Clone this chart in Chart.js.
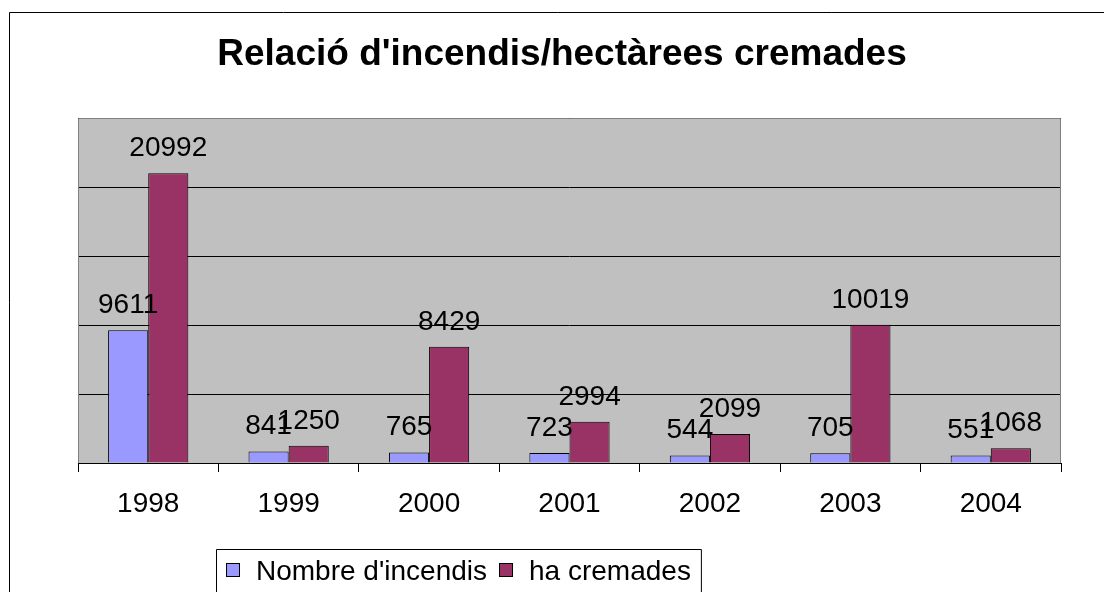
<!DOCTYPE html>
<html>
<head>
<meta charset="utf-8">
<script src="https://cdn.jsdelivr.net/npm/chart.js@4"></script>
<style>
  html, body { margin: 0; padding: 0; background: #fff; }
  #wrap { width: 1104px; height: 592px; }
</style>
</head>
<body>
<div id="wrap"><canvas id="barChart" width="1104" height="592"></canvas></div>
<script>
const years = ['1998', '1999', '2000', '2001', '2002', '2003', '2004'];
const fires = [9611, 841, 765, 723, 544, 705, 551];
const burnedHa = [20992, 1250, 8429, 2994, 2099, 10019, 1068];

const titleText = "Relació d'incendis/hectàrees cremades";
const FONT = '"Liberation Sans", Arial, sans-serif';

// gray plot background + frame, like the old spreadsheet charts
const plotFrame = {
    id: 'plotFrame',
    beforeDraw(chart) {
        const { ctx, chartArea: a } = chart;
        ctx.save();
        ctx.fillStyle = '#c0c0c0';
        ctx.fillRect(a.left, a.top, a.right - a.left, a.bottom - a.top);
        ctx.restore();
    },
    beforeDatasetsDraw(chart) {
        const { ctx, chartArea: a } = chart;
        ctx.save();
        ctx.strokeStyle = '#808080';
        ctx.lineWidth = 1;
        ctx.beginPath();
        ctx.moveTo(a.left + 0.5, a.bottom);
        ctx.lineTo(a.left + 0.5, a.top + 0.5);
        ctx.lineTo(a.right - 0.5, a.top + 0.5);
        ctx.lineTo(a.right - 0.5, a.bottom);
        ctx.stroke();
        ctx.restore();
    }
};

// value written above every bar
const barValues = {
    id: 'barValues',
    afterDatasetsDraw(chart) {
        const { ctx } = chart;
        ctx.save();
        ctx.font = '28px ' + FONT;
        ctx.fillStyle = '#000';
        ctx.textAlign = 'center';
        ctx.textBaseline = 'alphabetic';
        chart.data.datasets.forEach((ds, i) => {
            chart.getDatasetMeta(i).data.forEach((bar, j) => {
                ctx.fillText(String(ds.data[j]), bar.x, bar.y - 17);
            });
        });
        ctx.restore();
    }
};

// outer border, title and boxed legend
const decorations = {
    id: 'decorations',
    afterDraw(chart) {
        const { ctx } = chart;
        ctx.save();
        ctx.strokeStyle = '#000';
        ctx.lineWidth = 1;
        ctx.beginPath();
        ctx.moveTo(9.5, chart.height + 2);
        ctx.lineTo(9.5, 12.5);
        ctx.lineTo(chart.width + 2, 12.5);
        ctx.stroke();

        ctx.fillStyle = '#000';
        ctx.font = 'bold 37px ' + FONT;
        ctx.textAlign = 'center';
        ctx.textBaseline = 'alphabetic';
        ctx.fillText(titleText, 562, 65);

        ctx.font = '28px ' + FONT;
        ctx.textAlign = 'left';
        let x = 226;
        chart.data.datasets.forEach(ds => {
            ctx.fillStyle = ds.backgroundColor;
            ctx.fillRect(x, 563, 14, 14);
            ctx.strokeStyle = '#000';
            ctx.strokeRect(x + 0.5, 563.5, 13, 13);
            ctx.fillStyle = '#000';
            ctx.fillText(ds.label, x + 30, 580);
            x = x + 30 + ctx.measureText(ds.label).width + 12;
        });
        const right = x - 2;
        ctx.beginPath();
        ctx.moveTo(216.5, chart.height + 2);
        ctx.lineTo(216.5, 549.5);
        ctx.lineTo(right + 0.5, 549.5);
        ctx.lineTo(right + 0.5, chart.height + 2);
        ctx.stroke();
        ctx.restore();
    }
};

new Chart(document.getElementById('barChart'), {
    type: 'bar',
    data: {
        labels: years,
        datasets: [{
            label: "Nombre d'incendis",
            data: fires,
            backgroundColor: '#9999ff',
            borderColor: '#000',
            borderWidth: 1,
            categoryPercentage: 2 / 3.5,
            barPercentage: 1
        }, {
            label: 'ha cremades',
            data: burnedHa,
            backgroundColor: '#993366',
            borderColor: '#000',
            borderWidth: 1,
            categoryPercentage: 2 / 3.5,
            barPercentage: 1
        }]
    },
    options: {
        responsive: false,
        animation: false,
        layout: { padding: { left: 78, right: 43, top: 118, bottom: 69 } },
        plugins: {
            legend: { display: false },
            title: { display: false },
            tooltip: { enabled: false }
        },
        scales: {
            x: {
                grid: {
                    offset: true,
                    drawOnChartArea: false,
                    drawTicks: true,
                    tickLength: 9,
                    tickColor: ctx => ctx.index === years.length ? '#808080' : '#000'
                },
                border: { color: '#000', width: 1 },
                ticks: {
                    color: '#000',
                    padding: 15,
                    font: { family: FONT, size: 28 }
                },
                afterFit(scale) { scale.height = 60; }
            },
            y: {
                min: 0,
                max: 25000,
                ticks: { display: false, stepSize: 5000 },
                grid: { color: '#000', drawTicks: false },
                border: { display: false },
                afterFit(scale) { scale.width = 0; }
            }
        }
    },
    plugins: [plotFrame, barValues, decorations]
});
</script>
</body>
</html>
